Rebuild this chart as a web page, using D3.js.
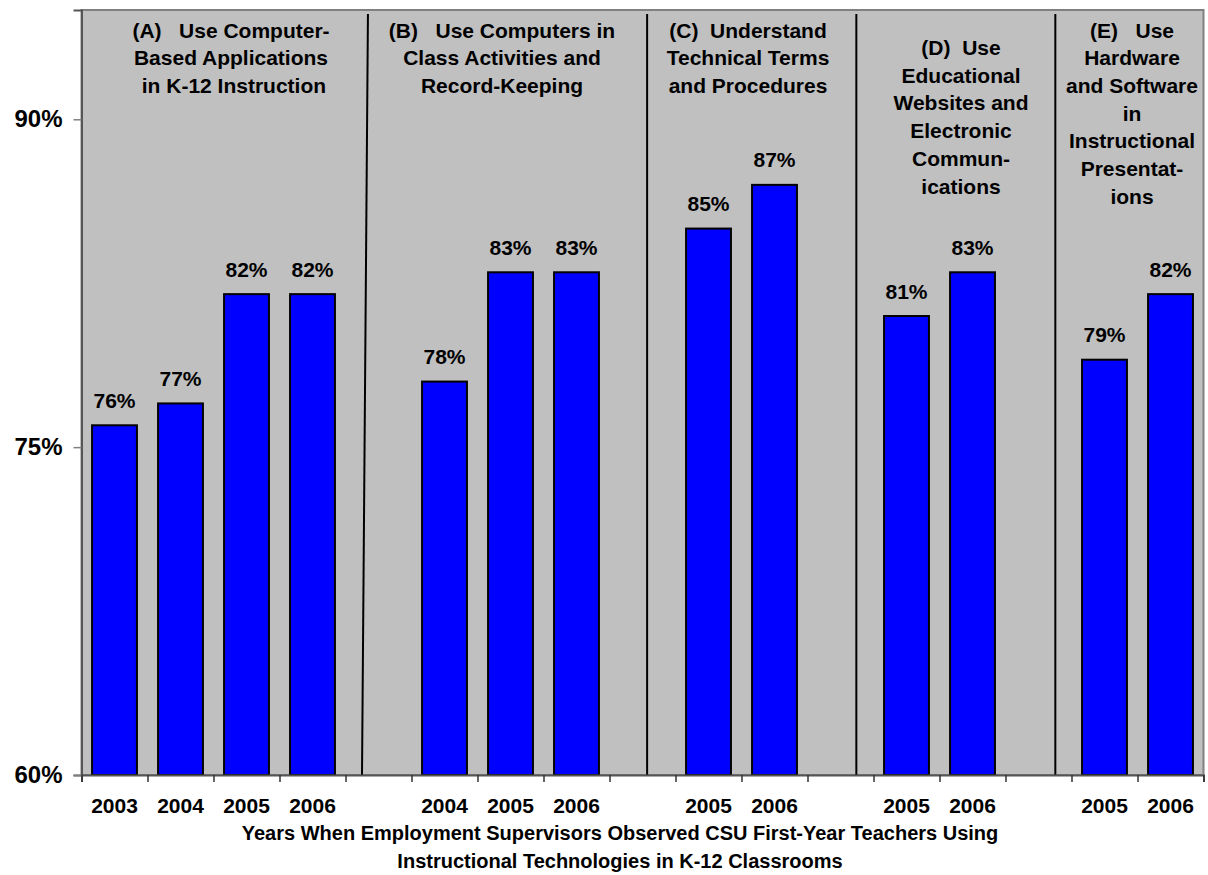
<!DOCTYPE html>
<html>
<head>
<meta charset="utf-8">
<script src="https://cdn.jsdelivr.net/npm/d3@7"></script>
<style>
  html, body { margin: 0; padding: 0; background: #fff; }
  svg text { font-family: "Liberation Sans", Arial, Helvetica, sans-serif; font-weight: bold; fill: #000; }
</style>
</head>
<body>
<svg id="chart" width="1208" height="875"></svg>
<script>
// ---------- data ----------
const panelTitles = [
  ["(A)   Use Computer-", "Based Applications", " in K-12 Instruction"],
  ["(B)   Use Computers in", "Class Activities and", "Record-Keeping"],
  ["(C)  Understand", "Technical Terms", "and Procedures"],
  ["(D)  Use", "Educational", "Websites and", "Electronic", "Commun-", "ications"],
  ["(E)   Use", "Hardware", "and Software", "in", "Instructional", "Presentat-", "ions"]
];
const panelYears = [
  ["2003", "2004", "2005", "2006"],
  ["2004", "2005", "2006"],
  ["2005", "2006"],
  ["2005", "2006"],
  ["2005", "2006"]
];
const panelValues = [
  [76, 77, 82, 82],
  [78, 83, 83],
  [85, 87],
  [81, 83],
  [79, 82]
];
const yTicks = [60, 75, 90];
const xTitleLines = [
  "Years When Employment Supervisors Observed CSU First-Year Teachers Using",
  "Instructional Technologies in K-12 Classrooms"
];

// ---------- layout ----------
const plot = { left: 81.5, right: 1203.5, top: 10, bottom: 775 };
const titleX = [231, 502, 748, 961, 1132];
const titleFirstBaseline = [37.5, 37.5, 37.5, 55, 37.5];
const titleLineHeight = 27.7;
// separators: [slot index, fraction at top, fraction at bottom]
const separators = [[4, 0.34, 0.25], [8, 0.57, 0.57], [11, 0.74, 0.74], [14, 0.755, 0.755]];

// build slots (each year plus a blank slot between panels)
const slots = [];
panelYears.forEach((years, p) => {
  years.forEach((yr, j) => slots.push({ panel: p, year: yr, value: panelValues[p][j] }));
  if (p < panelYears.length - 1) slots.push({ panel: p, year: "", value: null });
});
slots.forEach((s, i) => s.idx = i);

const svg = d3.select("#chart");

const x = d3.scaleBand().domain(slots.map(s => s.idx)).range([plot.left, plot.right]).padding(0);
const xLin = d3.scaleLinear().domain([0, slots.length]).range([plot.left, plot.right]);
const y = d3.scaleLinear().domain([60, 95]).range([plot.bottom, plot.top]);

// plot background
svg.append("rect")
  .attr("x", plot.left).attr("y", plot.top)
  .attr("width", plot.right - plot.left).attr("height", plot.bottom - plot.top)
  .attr("fill", "#C0C0C0").attr("stroke", "#808080").attr("stroke-width", 2);

// separators
svg.append("g").selectAll("line").data(separators).join("line")
  .attr("x1", d => x(d[0]) + d[1] * x.bandwidth())
  .attr("x2", d => x(d[0]) + d[2] * x.bandwidth())
  .attr("y1", 14).attr("y2", plot.bottom)
  .attr("stroke", "#000").attr("stroke-width", 2);

// bars
const bw = x.bandwidth() * 0.68;
const barData = slots.filter(s => s.value != null);
svg.append("g").selectAll("rect").data(barData).join("rect")
  .attr("x", d => x(d.idx) + (x.bandwidth() - bw) / 2)
  .attr("y", d => y(d.value))
  .attr("width", bw)
  .attr("height", d => y(60) - y(d.value))
  .attr("fill", "#0000FF").attr("stroke", "#000").attr("stroke-width", 2);

// value labels
svg.append("g").selectAll("text").data(barData).join("text")
  .attr("x", d => x(d.idx) + x.bandwidth() / 2)
  .attr("y", d => y(d.value) - 17.5)
  .attr("text-anchor", "middle")
  .style("font-size", "21px")
  .text(d => d.value + "%");

// y axis
const yAxis = svg.append("g").attr("transform", `translate(${plot.left},0)`)
  .call(d3.axisLeft(y).tickValues(yTicks).tickSize(8).tickPadding(11).tickFormat(d => d + "%"));
yAxis.select(".domain").attr("stroke", "#555").attr("stroke-width", 2);
yAxis.selectAll(".tick line").attr("stroke", "#808080").attr("stroke-width", 1.5);
yAxis.selectAll(".tick text").style("font-size", "24px").attr("fill", "#000");

// x axis
const xAxis = svg.append("g").attr("transform", `translate(0,${plot.bottom})`)
  .call(d3.axisBottom(xLin).tickValues(d3.range(slots.length + 1)).tickSize(7).tickFormat(""));
xAxis.select(".domain").attr("stroke", "#555").attr("stroke-width", 2);
xAxis.selectAll(".tick line").attr("stroke", "#333").attr("stroke-width", 1.5);

// category labels
svg.append("g").selectAll("text").data(slots.filter(s => s.year)).join("text")
  .attr("x", d => x(d.idx) + x.bandwidth() / 2)
  .attr("y", 813)
  .attr("text-anchor", "middle")
  .style("font-size", "21px")
  .text(d => d.year);

// panel titles
panelTitles.forEach((lines, p) => {
  svg.append("g").selectAll("text").data(lines).join("text")
    .attr("x", titleX[p])
    .attr("y", (d, i) => titleFirstBaseline[p] + i * titleLineHeight)
    .attr("text-anchor", "middle")
    .style("font-size", "21px")
    .style("white-space", "pre")
    .text(d => d);
});

// x axis title
svg.append("g").selectAll("text").data(xTitleLines).join("text")
  .attr("x", 620)
  .attr("y", (d, i) => 840 + i * 28)
  .attr("text-anchor", "middle")
  .style("font-size", "20px")
  .text(d => d);
</script>
</body>
</html>
